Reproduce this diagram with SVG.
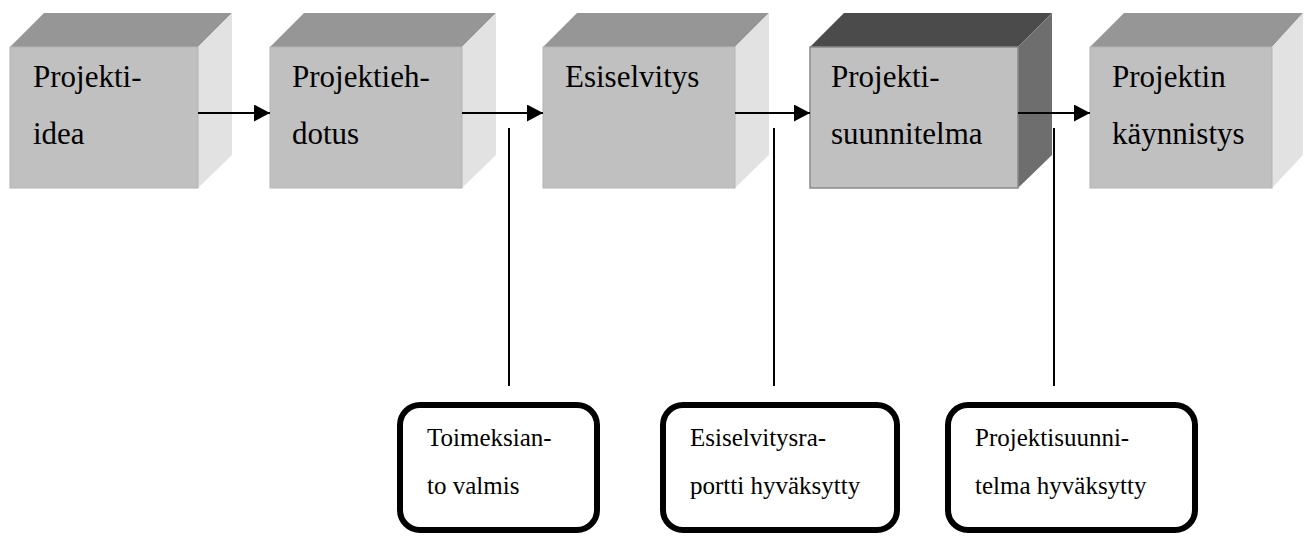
<svg xmlns="http://www.w3.org/2000/svg" width="1311" height="536" viewBox="0 0 1311 536">
<style>
.top{fill:#969696}
.front{fill:#c0c0c0;stroke:#b4b4b4;stroke-width:1}
.side{fill:#e2e2e2}
.top-d{fill:#4b4b4b}
.side-d{fill:#6e6e6e}
.front-d{fill:#c0c0c0;stroke:#8a8a8a;stroke-width:1.5}
.big{font-family:"Liberation Serif","Times New Roman",serif;font-size:31px;fill:#000}
.small{font-family:"Liberation Serif","Times New Roman",serif;font-size:25px;fill:#000}
.note{fill:#fff;stroke:#000;stroke-width:6}
.conn{stroke:#000;stroke-width:2;fill:none}
.vline{stroke:#000;stroke-width:2}
</style>
<defs>
<marker id="ah" markerWidth="16" markerHeight="17" refX="16" refY="8.5" orient="auto" markerUnits="userSpaceOnUse">
<path d="M0,0 L16,8.5 L0,17 Z" fill="#000"/>
</marker>
</defs>
<rect width="1311" height="536" fill="#fff"/>

<g id="node-idea">
<polygon class="top" points="10,47 44,13 232,13 198,47"/>
<polygon class="side" points="198,47 232,13 232,155 198,188"/>
<rect class="front" x="10" y="47" width="188" height="141"/>
<text class="big" x="33" y="87">Projekti-</text>
<text class="big" x="33" y="144">idea</text>
</g>

<g id="node-ehdotus">
<polygon class="top" points="270,47 304,13 496,13 462,47"/>
<polygon class="side" points="462,47 496,13 496,155 462,188"/>
<rect class="front" x="270" y="47" width="192" height="141"/>
<text class="big" x="292" y="87">Projektieh-</text>
<text class="big" x="292" y="144">dotus</text>
</g>

<g id="node-esiselvitys">
<polygon class="top" points="543,47 577,13 769,13 735,47"/>
<polygon class="side" points="735,47 769,13 769,155 735,188"/>
<rect class="front" x="543" y="47" width="192" height="141"/>
<text class="big" x="565" y="87">Esiselvitys</text>
</g>

<g id="node-suunnitelma">
<polygon class="top-d" points="810,47 844,13 1052,13 1018,47"/>
<polygon class="side-d" points="1018,47 1052,13 1052,155 1018,188"/>
<rect class="front-d" x="810" y="47" width="208" height="141"/>
<text class="big" x="831" y="87">Projekti-</text>
<text class="big" x="831" y="144">suunnitelma</text>
</g>

<g id="node-kaynnistys">
<polygon class="top" points="1090,47 1124,13 1303,13 1272,47"/>
<polygon class="side" points="1272,47 1303,13 1303,155 1272,188"/>
<rect class="front" x="1090" y="47" width="182" height="141"/>
<text class="big" x="1112" y="87">Projektin</text>
<text class="big" x="1112" y="144">käynnistys</text>
</g>

<g id="note-toimeksianto">
<rect class="note" x="400" y="405" width="197" height="125" rx="20" ry="20"/>
<text class="small" x="427" y="446">Toimeksian-</text>
<text class="small" x="427" y="494">to valmis</text>
</g>

<g id="note-esiselvitysraportti">
<rect class="note" x="663" y="405" width="234" height="125" rx="20" ry="20"/>
<text class="small" x="690" y="446">Esiselvitysra-</text>
<text class="small" x="690" y="494">portti hyväksytty</text>
</g>

<g id="note-projektisuunnitelma">
<rect class="note" x="948" y="405" width="247" height="125" rx="20" ry="20"/>
<text class="small" x="975" y="446">Projektisuunni-</text>
<text class="small" x="975" y="494">telma hyväksytty</text>
</g>

<g id="connectors">
<line class="conn" x1="198" y1="113" x2="270" y2="113" marker-end="url(#ah)"/>
<line class="conn" x1="462" y1="113" x2="543" y2="113" marker-end="url(#ah)"/>
<line class="conn" x1="735" y1="113" x2="810" y2="113" marker-end="url(#ah)"/>
<line class="conn" x1="1018" y1="113" x2="1090" y2="113" marker-end="url(#ah)"/>
<line class="vline" x1="509" y1="128" x2="509" y2="386"/>
<line class="vline" x1="774" y1="128" x2="774" y2="386"/>
<line class="vline" x1="1054" y1="128" x2="1054" y2="386"/>
</g>
</svg>
